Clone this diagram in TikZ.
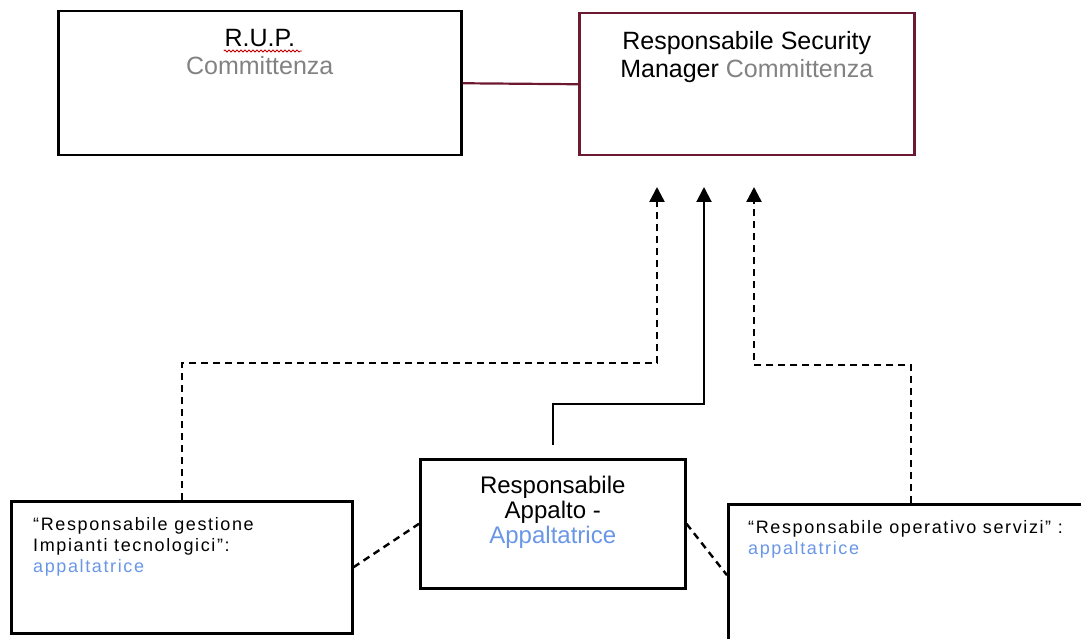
\documentclass[tikz,border=0pt]{standalone}
\usepackage{fontspec}
\setmainfont{Liberation Sans}
\newfontfamily\widefont[LetterSpace=9]{Liberation Sans}
\usetikzlibrary{positioning,arrows.meta,decorations.pathmorphing}
\definecolor{grigio}{RGB}{130,130,130}
\definecolor{azzurro}{RGB}{105,150,230}
\definecolor{bordorosso}{RGB}{110,25,50}

\begin{document}
\begin{tikzpicture}[x=1pt,y=-1pt,
  box/.style={draw, line width=2.5pt, anchor=north west, inner sep=0pt},
  tratt/.style={line width=2.4pt, dash pattern=on 7pt off 5pt},
  freccia/.style={-{Triangle[length=15pt,width=15pt]}},
  testo/.style={inner sep=0pt, font=\fontsize{25}{28}\selectfont, align=center},
  testosx/.style={inner sep=0pt, font=\widefont\fontsize{18}{21}\selectfont, align=left}]
\useasboundingbox (0,0) rectangle (1081,639);
\clip (0,0) rectangle (1081,639);
% riquadri
\node[box, minimum width=403pt, minimum height=144pt](rup) at (57,10){};
\node[box, draw=bordorosso, minimum width=335pt, minimum height=142pt](rsm) at (578,12){};
\node[box, minimum width=265pt, minimum height=129pt](ra) at (419,458){};
\node[box, minimum width=341pt, minimum height=132pt](rgi) at (10,500){};
\node[box, minimum width=366pt, minimum height=142pt](ros) at (727,503){};
% testi
\node[testo, below=19pt of rup.north](rupt){R.U.P.\\\textcolor{grigio}{Committenza}};
\draw[red!75!black, line width=0.8pt, decorate, decoration={snake, amplitude=1pt, segment length=4pt}]
  ([xshift=-36pt, yshift=-22pt]rupt.north) -- ([xshift=42pt, yshift=-22pt]rupt.north);
\node[testo, below=19pt of rsm.north](rsmt){Responsabile Security\\Manager \textcolor{grigio}{Committenza}};
\node[testo, font=\fontsize{24}{25}\selectfont, below=18pt of ra.north](rat){Responsabile\\Appalto -\\\textcolor{azzurro}{Appaltatrice}};
\node[testosx, below right=17pt and 23pt of rgi.north west](rgit){“Responsabile gestione\\Impianti tecnologici”:\\\textcolor{azzurro}{appaltatrice}};
\node[testosx, below right=17pt and 21pt of ros.north west](rost){“Responsabile operativo servizi” :\\\textcolor{azzurro}{appaltatrice}};
% collegamenti
\coordinate (p1) at (657,187);
\coordinate (p2) at (704,187);
\coordinate (p3) at (754,187);
\coordinate (g1) at (657,363);
\coordinate (g2) at (704,404);
\coordinate (g3) at (754,365);
\coordinate (a0) at ([yshift=13pt]ra.north);
\draw[bordorosso, line width=2.2pt] (rup.east)--(rsm.west);
\draw[tratt, freccia] (rgi.north) |- (g1) -- (p1);
\draw[line width=2pt, freccia] (a0) |- (g2) -- (p2);
\draw[tratt, freccia] (ros.north) |- (g3) -- (p3);
\draw[tratt] (rgi.east)--(ra.west);
\draw[tratt] (ra.east)--(ros.west);
\end{tikzpicture}
\end{document}
